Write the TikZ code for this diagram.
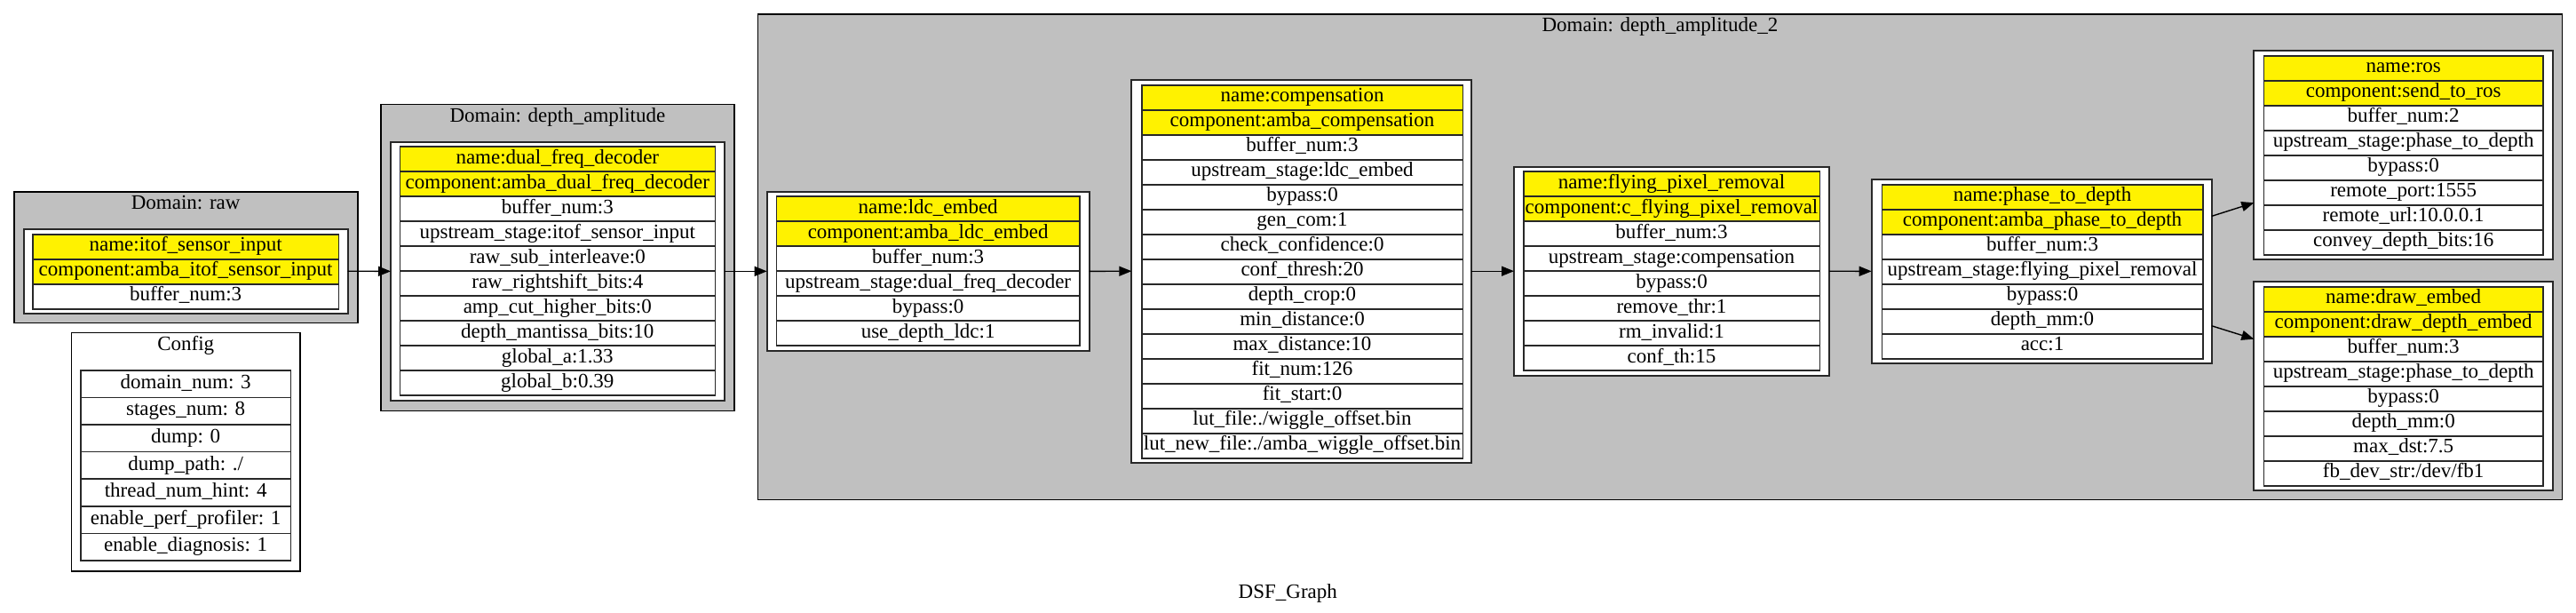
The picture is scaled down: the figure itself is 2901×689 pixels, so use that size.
\documentclass[tikz,border=0pt]{standalone}
\usepackage{fontspec}
\setmainfont{Liberation Serif}
\usetikzlibrary{arrows.meta}
\definecolor{clgray}{RGB}{192,192,192}
\definecolor{lnc}{RGB}{40,40,40}
\tikzset{
 base/.style={font=\fontsize{23}{27}\selectfont, inner sep=0pt, outer sep=0pt},
 cluster/.style={base, draw=black, line width=1.6pt, fill=clgray},
 cfgcluster/.style={base, draw=black, line width=1.6pt, fill=white},
 obox/.style={base, draw=lnc, line width=1.8pt, fill=white},
 cell/.style={base, draw=lnc, line width=1.6pt, text height=15.5pt, text depth=5pt},
 ttl/.style={base, anchor=center, text height=15.5pt, text depth=5pt},
 edge/.style={line width=1.4pt, -{Triangle[length=14pt,width=11pt]}},
}
\newcommand{\boxat}[6]{%
 \pgfmathsetmacro\bw{#5-#3}\pgfmathsetmacro\bh{#6-#4}%
 \pgfmathsetmacro\bx{(#3+#5)/2}\pgfmathsetmacro\by{(#4+#6)/2}%
 \node[#1, minimum width=\bw pt, minimum height=\bh pt] (#2) at (\bx,\by) {};}
\newcommand{\tbl}[7]{%
 \pgfmathsetmacro\tw{#3-#2}\pgfmathsetmacro\tx{(#2+#3)/2}%
 \foreach \txt [count=\i] in {#7} {%
   \pgfmathsetmacro\ty{#4+(\i-0.5)*#5}%
   \ifnum\i>#6 \def\cf{white}\else\def\cf{yellow}\fi
   \node[cell, fill=\cf, minimum width=\tw pt, minimum height=#5 pt] (#1-\i) at (\tx,\ty) {\txt};
 }}
\begin{document}
\begin{tikzpicture}[x=1pt,y=-1pt]
\useasboundingbox (0,0) rectangle (2901,689);
% clusters
\boxat{cluster}{clraw}{15.7}{215.7}{402.7}{363.3}
\node[ttl] (traw) at (209.2,230) {Domain: raw};
\boxat{cfgcluster}{clcfg}{80.3}{374.3}{338}{642.7}
\node[ttl] (tcfg) at (209.2,389) {Config};
\boxat{cluster}{cldual}{429}{117.3}{826.7}{462.3}
\node[ttl] (tdual) at (627.9,132.3) {Domain: depth\_amplitude};
\boxat{cluster}{cltwo}{853.3}{15.7}{2885.5}{562.3}
\node[ttl] (ttwo) at (1869.4,30.7) {Domain: depth\_amplitude\_2};
% outer boxes
\boxat{obox}{raw}{26.7}{257.7}{391.7}{352.7}
\boxat{obox}{dual}{440}{160}{816.3}{450.7}
\boxat{obox}{ldc}{863.7}{216}{1226.7}{394.7}
\boxat{obox}{comp}{1274.3}{89.7}{1657.3}{520.7}
\boxat{obox}{fly}{1705}{187.7}{2060}{422.7}
\boxat{obox}{phase}{2107.7}{202}{2490.7}{408.7}
\boxat{obox}{ros}{2538.3}{56.7}{2874.7}{291.7}
\boxat{obox}{drw}{2538.3}{317.3}{2874.7}{552}
% tables
\tbl{traw}{37}{381.3}{263.7}{28}{2}{name:itof\_sensor\_input,component:amba\_itof\_sensor\_input,buffer\_num:3}
\tbl{tcfg}{91}{327.3}{416.7}{30.6}{0}{domain\_num: 3,stages\_num: 8,dump: 0,dump\_path: ./,thread\_num\_hint: 4,enable\_perf\_profiler: 1,enable\_diagnosis: 1}
\tbl{tdual}{450.3}{805.3}{165}{28}{2}{name:dual\_freq\_decoder,component:amba\_dual\_freq\_decoder,buffer\_num:3,upstream\_stage:itof\_sensor\_input,raw\_sub\_interleave:0,raw\_rightshift\_bits:4,amp\_cut\_higher\_bits:0,depth\_mantissa\_bits:10,global\_a:1.33,global\_b:0.39}
\tbl{tldc}{874.3}{1216}{221}{28}{2}{name:ldc\_embed,component:amba\_ldc\_embed,buffer\_num:3,upstream\_stage:dual\_freq\_decoder,bypass:0,use\_depth\_ldc:1}
\tbl{tcomp}{1285.7}{1647.3}{95.7}{28}{2}{name:compensation,component:amba\_compensation,buffer\_num:3,upstream\_stage:ldc\_embed,bypass:0,gen\_com:1,check\_confidence:0,conf\_thresh:20,depth\_crop:0,min\_distance:0,max\_distance:10,fit\_num:126,fit\_start:0,lut\_file:./wiggle\_offset.bin,lut\_new\_file:./amba\_wiggle\_offset.bin}
\tbl{tfly}{1715.7}{2049.3}{193}{28}{2}{name:flying\_pixel\_removal,component:c\_flying\_pixel\_removal,buffer\_num:3,upstream\_stage:compensation,bypass:0,remove\_thr:1,rm\_invalid:1,conf\_th:15}
\tbl{tphase}{2119.3}{2480.7}{207.7}{28}{2}{name:phase\_to\_depth,component:amba\_phase\_to\_depth,buffer\_num:3,upstream\_stage:flying\_pixel\_removal,bypass:0,depth\_mm:0,acc:1}
\tbl{tros}{2549.3}{2864}{62.7}{28}{2}{name:ros,component:send\_to\_ros,buffer\_num:2,upstream\_stage:phase\_to\_depth,bypass:0,remote\_port:1555,remote\_url:10.0.0.1,convey\_depth\_bits:16}
\tbl{tdrw}{2549.3}{2864}{322.7}{28}{2}{name:draw\_embed,component:draw\_depth\_embed,buffer\_num:3,upstream\_stage:phase\_to\_depth,bypass:0,depth\_mm:0,max\_dst:7.5,fb\_dev\_str:/dev/fb1}
% edges
\draw[edge] (raw.east) -- (dual.west);
\draw[edge] (dual.east) -- (ldc.west);
\draw[edge] (ldc.east) -- (comp.west);
\draw[edge] (comp.east) -- (fly.west);
\draw[edge] (fly.east) -- (phase.west);
\draw[edge] ([yshift=62pt]phase.east) -- ([yshift=-54pt]ros.west);
\draw[edge] ([yshift=-61.4pt]phase.east) -- ([yshift=53pt]drw.west);
% graph label
\node[ttl] (glabel) at (1450.3,668) {DSF\_Graph};
\end{tikzpicture}
\end{document}
